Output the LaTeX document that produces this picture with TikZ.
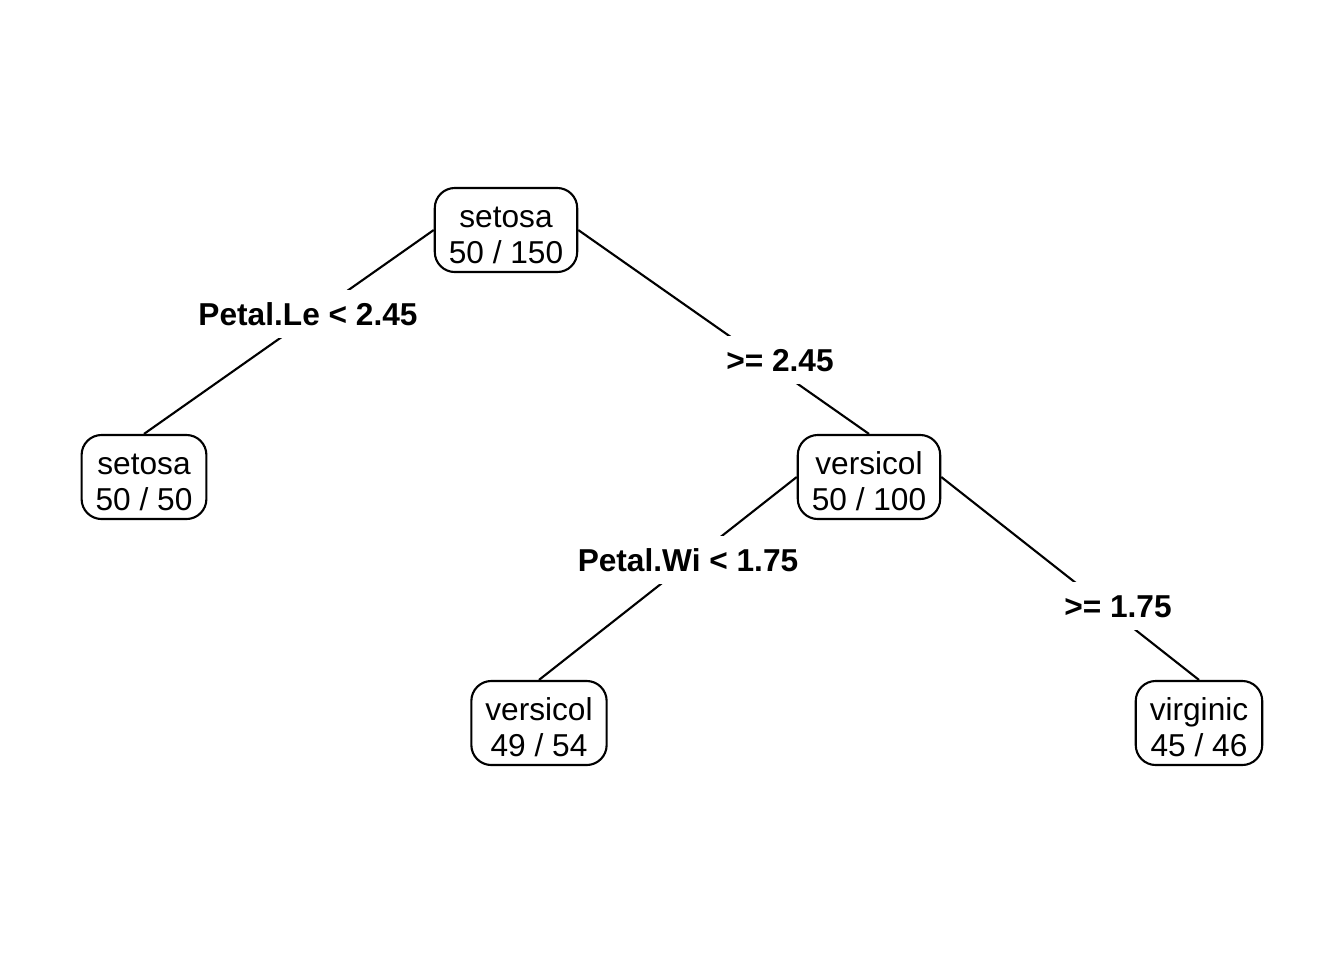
\documentclass[tikz,border=0pt]{standalone}
\usepackage{fontspec}
\setmainfont{Liberation Sans}
\usepackage{tikz}

\newcommand{\boxtext}[2]{\rule{0pt}{8.9pt}#1\\#2}

\begin{document}
\begin{tikzpicture}[x=0.01cm, y=-0.01cm, line width=0.6pt]
\useasboundingbox (0, 0) rectangle (1344, 960);
\tikzstyle{every node} = [font=\fontsize{9}{10.5}\selectfont]
\tikzstyle{leafbox} = [draw, rounded corners=0.2cm, align=center, inner xsep=0.14cm, inner ysep=0pt, minimum height=0.84cm]
\tikzstyle{splitlabel} = [fill=white, font=\fontsize{9}{10.5}\selectfont\bfseries, text height=0.23cm, text depth=0pt, inner xsep=0.05cm, inner ysep=0.12cm]
% tree nodes
\node[leafbox] (root) at (506, 230) {\boxtext{setosa}{50 / 150}};
\node[leafbox] (setosa) at (144, 477) {\boxtext{setosa}{50 / 50}};
\node[leafbox] (vers) at (869, 477) {\boxtext{versicol}{50 / 100}};
\node[leafbox] (versleaf) at (539, 723) {\boxtext{versicol}{49 / 54}};
\node[leafbox] (virg) at (1199, 723) {\boxtext{virginic}{45 / 46}};
\foreach \from/\to in {root.west/setosa.north, root.east/vers.north, vers.west/versleaf.north, vers.east/virg.north}
\draw (\from) -- (\to);
% split labels
\node[splitlabel] (l1) at (308, 314) {Petal.Le < 2.45};
\node[splitlabel] (r1) at (780, 360) {>= 2.45};
\node[splitlabel] (l2) at (688, 560) {Petal.Wi < 1.75};
\node[splitlabel] (r2) at (1118, 606) {>= 1.75};
\end{tikzpicture}
\end{document}
